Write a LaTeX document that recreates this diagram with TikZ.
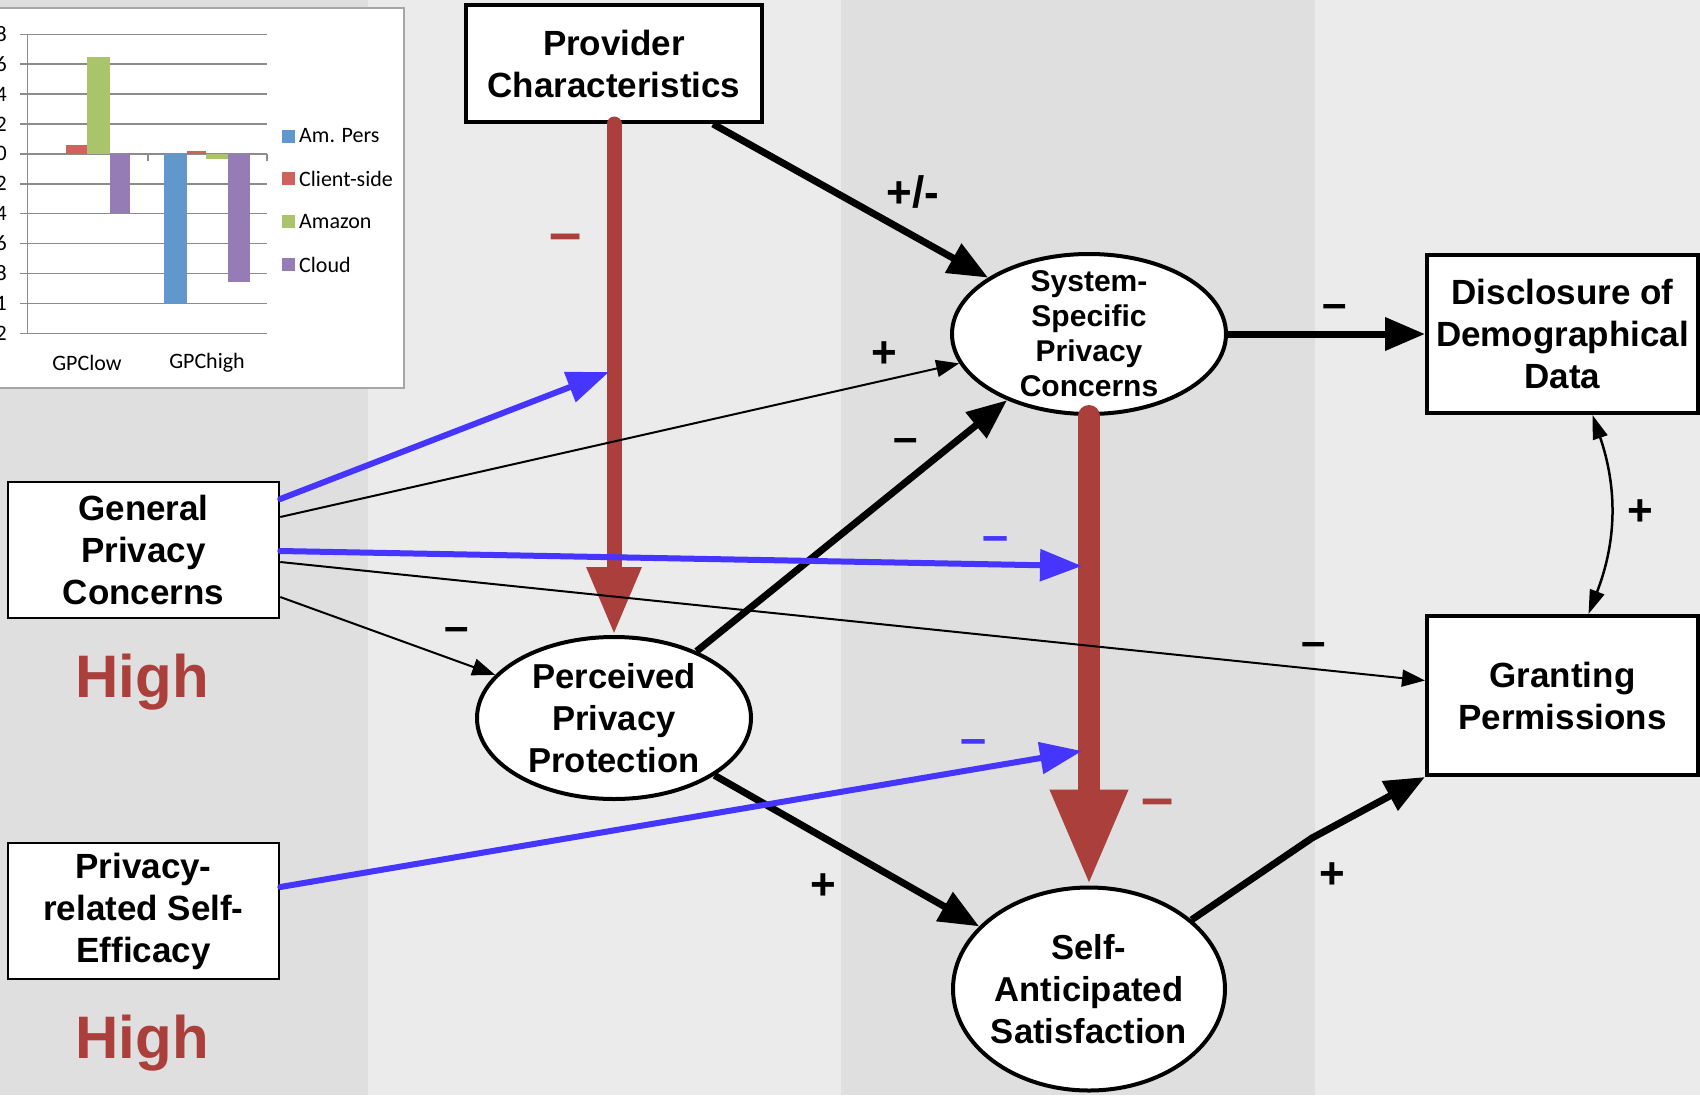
\documentclass[tikz,border=0pt]{standalone}
\usepackage{fontspec}
\setmainfont{Liberation Sans}
\newfontfamily\chartfont{Carlito}
\usetikzlibrary{arrows.meta,shapes.geometric,calc}
\definecolor{bgdark}{HTML}{DFDFDF}
\definecolor{bglight}{HTML}{EBEBEB}
\definecolor{hired}{HTML}{AB3F3B}
\definecolor{modblue}{HTML}{4634FF}
\definecolor{gridc}{HTML}{8C8C8C}
\definecolor{chartborder}{HTML}{A6A6A6}
\definecolor{barblue}{HTML}{6097CC}
\definecolor{barred}{HTML}{D0625D}
\definecolor{bargreen}{HTML}{A9C46A}
\definecolor{barpurple}{HTML}{957CB4}
\tikzset{
  boxthick/.style={draw, line width=4pt, fill=white, rectangle, inner sep=0pt, align=center, font=\bfseries\fontsize{35}{42}\selectfont},
  boxthin/.style={boxthick, line width=2.5pt},
  ell/.style={draw, line width=4pt, fill=white, ellipse, inner sep=0pt},
  elltext/.style={align=center, inner sep=0pt, font=\bfseries\fontsize{34.6}{42}\selectfont},
  elltextsmall/.style={align=center, inner sep=0pt, font=\bfseries\fontsize{30}{35}\selectfont},
  hightext/.style={inner sep=0pt, anchor=base, text=hired, font=\bfseries\fontsize{60}{62}\selectfont},
  sign/.style={inner sep=0pt, anchor=base, font=\bfseries\fontsize{44}{44}\selectfont},
  chartlab/.style={inner sep=0pt, font=\chartfont\fontsize{22}{26}\selectfont},
  gridline/.style={gridc, line width=1.5pt},
  thickarrow/.style={line width=7pt, -{Triangle[length=40pt,width=32pt]}},
  thinarrow/.style={line width=2pt, -{Triangle[length=23pt,width=17pt]}},
  bluearrow/.style={modblue, line width=6pt, line cap=round, -{Triangle[length=42pt,width=31pt]}},
}
\begin{document}
\begin{tikzpicture}[x=1pt,y=-1pt]
\useasboundingbox (0,0) rectangle (1700,1095);
% background stripes
\fill[bgdark] (0,0) rectangle (368,1095);
\fill[bglight] (368,0) rectangle (841,1095);
\fill[bgdark] (841,0) rectangle (1315,1095);
\fill[bglight] (1315,0) rectangle (1700,1095);

% ---------- chart ----------
\draw[fill=white, draw=chartborder, line width=2pt] (-5,8) rectangle (404,388);
\foreach \i in {0,...,10}
  \draw[gridline] (20,{34.3+29.9*\i}) -- (267,{34.3+29.9*\i});
\draw[gridline] (27.3,34.3) -- (27.3,333.3);
\draw[gridline] (148,153.9) -- (148,161);
\draw[gridline] (267,153.9) -- (267,161);
\foreach \v [count=\i from 0] in {0.8,0.6,0.4,0.2,0,-0.2,-0.4,-0.6,-0.8,-1,-1.2}
  \node[chartlab, anchor=east] (yl\i) at (7,{34.3+29.9*\i}) {\v};
% bars
\fill[barred] (66,145) rectangle (87,153.9);
\fill[bargreen] (87,57) rectangle (110,153.9);
\fill[barpurple] (110,153.9) rectangle (130,213);
\fill[barblue] (164,153.9) rectangle (187,303.5);
\fill[barred] (187,151) rectangle (206,153.9);
\fill[bargreen] (206,153.9) rectangle (228,158.5);
\fill[barpurple] (228,153.9) rectangle (250,282);
% legend
\fill[barblue] (281.5,129.5) rectangle (294.5,142.5);
\fill[barred] (281.5,171.5) rectangle (294.5,184.5);
\fill[bargreen] (281.5,215) rectangle (294.5,228);
\fill[barpurple] (281.5,257.5) rectangle (294.5,270.5);
\node[chartlab, anchor=west] (lg1) at (299,136) {Am. Pers};
\node[chartlab, anchor=west] (lg2) at (299,178.5) {Client-side};
\node[chartlab, anchor=west] (lg3) at (299,222) {Amazon};
\node[chartlab, anchor=west] (lg4) at (299,264.5) {Cloud};
\node[chartlab] (cat1) at (87,363) {GPClow};
\node[chartlab] (cat2) at (207,363) {GPChigh};

% ---------- nodes ----------
\node[boxthick, minimum width=296pt, minimum height=117pt] (prov) at (614,63.5) {Provider\\Characteristics};
\node[boxthin, minimum width=271pt, minimum height=136pt] (gpc) at (143.5,550) {General\\Privacy\\Concerns};
\node[boxthin, minimum width=271pt, minimum height=136pt] (pse) at (143.5,911) {Privacy-\\related Self-\\Efficacy};
\node[boxthick, minimum width=271pt, minimum height=158pt] (dis) at (1562.5,334) {Disclosure of\\Demographical\\Data};
\node[boxthick, minimum width=271pt, minimum height=159pt] (gp) at (1562.5,695.5) {Granting\\Permissions};
\node[ell, minimum width=274pt, minimum height=162pt] (ppp) at (614,718) {};
\node[elltext] (ppp-t) at (ppp) {Perceived\\Privacy\\Protection};
\node[ell, minimum width=274pt, minimum height=160pt] (sspc) at (1089,334) {};
\node[elltextsmall] (sspc-t) at (sspc) {System-\\Specific\\Privacy\\Concerns};
\node[ell, minimum width=272pt, minimum height=203pt] (sas) at (1089,989) {};
\node[elltext] (sas-t) at (sas) {Self-\\Anticipated\\Satisfaction};
\node[hightext] (high1) at (142,697) {High};
\node[hightext] (high2) at (142,1058) {High};

% ---------- coordinates ----------
\coordinate (mB) at (609,372);
\coordinate (mC1) at (1082,566);
\coordinate (mC2) at (1082,751);
\coordinate (bend) at (1312,838);

% ---------- red moderated paths ----------
\draw[hired, line width=15pt, line cap=round, -{Triangle[length=68pt,width=51pt]}] (prov.south) -- (ppp.north);
\draw[hired, line width=22pt, line cap=round, -{Triangle[length=96pt,width=72pt]}] (sspc.south) -- (sas.north);

% ---------- thin arrows ----------
\draw[thinarrow] ($(gpc.east)+(0,-33)$) -- (sspc);
\draw[thinarrow] ($(gpc.east)+(0,12)$) -- ($(gp.west)+(0,-15)$);
\draw[thinarrow] ($(gpc.east)+(0,47)$) -- (ppp);
\draw[line width=2.5pt, {Triangle[length=24pt,width=15pt]}-{Triangle[length=24pt,width=15pt]}] ($(dis.south)+(30,0)$) to[bend left=20] ($(gp.north)+(26,0)$);

% ---------- thick arrows ----------
\draw[thickarrow] ($(prov.south)+(99,0)$) -- (sspc);
\draw[thickarrow] (ppp) -- (sspc);
\draw[thickarrow] (ppp) -- (sas);
\draw[thickarrow] (sspc) -- (dis);
\draw[thickarrow] (sas.34) -- (bend) -- (gp.south west);

% ---------- blue moderating arrows ----------
\draw[bluearrow] ($(gpc.east)+(0,-51)$) -- (mB);
\draw[bluearrow] ($(gpc.east)+(0,1)$) -- (mC1);
\draw[bluearrow] ($(pse.east)+(0,-24)$) -- (mC2);

% ---------- signs ----------
\node[sign] (s1) at (913,207) {+/-};
\node[sign] (s2) at (884,367) {+};
\node[sign] (s3) at (906,452) {–};
\node[sign] (s4) at (457,641) {–};
\node[sign] (s5) at (1314,656) {–};
\node[sign] (s6) at (1335,318) {–};
\node[sign] (s7) at (823,899) {+};
\node[sign] (s8) at (1332,888) {+};
\node[sign] (s9) at (1640,525) {+};
\node[sign, text=hired, font=\bfseries\fontsize{58}{58}\selectfont] (s10) at (566,252) {–};
\node[sign, text=hired, font=\bfseries\fontsize{58}{58}\selectfont] (s11) at (1158,817) {–};
\node[sign, text=modblue, font=\bfseries\fontsize{47}{47}\selectfont] (s12) at (996,551) {–};
\node[sign, text=modblue, font=\bfseries\fontsize{47}{47}\selectfont] (s13) at (974,754) {–};
\end{tikzpicture}
\end{document}
